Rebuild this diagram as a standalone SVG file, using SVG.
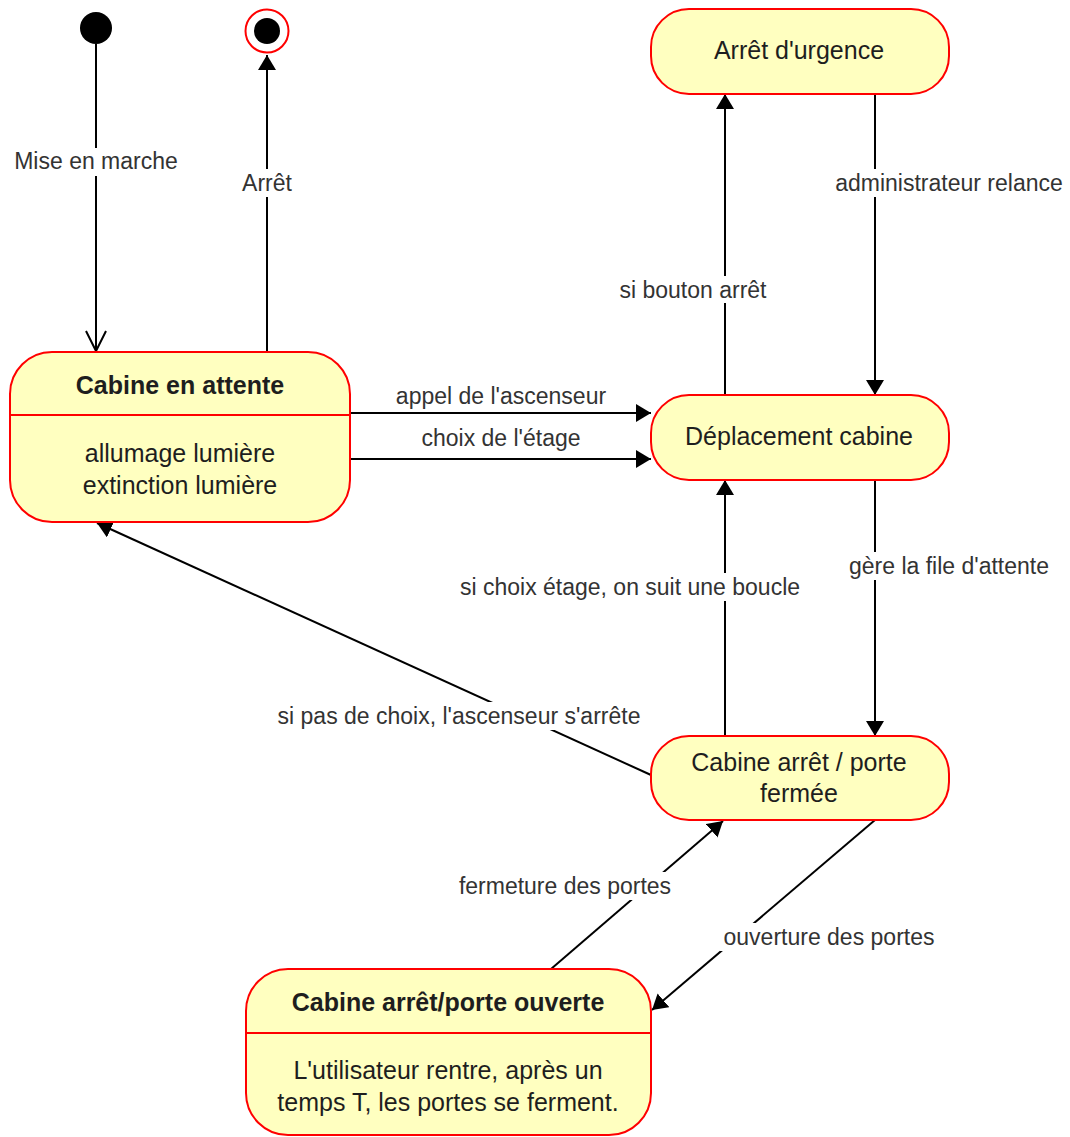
<svg xmlns="http://www.w3.org/2000/svg" width="1070" height="1137" viewBox="0 0 1070 1137">
<style>
.node{fill:#FFFFC0;stroke:#FF0000;stroke-width:2}
.div{stroke:#FF0000;stroke-width:2}
.nt{font-family:"Liberation Sans",Arial,sans-serif;font-size:25px;fill:#1e1e1e;text-anchor:middle}
.b{font-weight:bold}
.edge{stroke:#000;stroke-width:2;fill:none}
.lbg{fill:#fff}
.lt{font-family:"Liberation Sans",Arial,sans-serif;font-size:23px;fill:#333;text-anchor:middle}
</style>
<defs>
<marker id="fa" markerUnits="userSpaceOnUse" markerWidth="18" markerHeight="20" refX="15" refY="9" orient="auto">
<path d="M0,0 L15,9 L0,18 z" fill="#000"/>
</marker>
<marker id="oa" markerUnits="userSpaceOnUse" markerWidth="24" markerHeight="24" refX="21" refY="11" orient="auto">
<path d="M1,1 L21,11 L1,21" fill="none" stroke="#000" stroke-width="2"/>
</marker>
</defs>
<rect width="1070" height="1137" fill="#fff"/>

<g id="connectors">
<line class="edge" x1="96" y1="44" x2="96" y2="351" marker-end="url(#oa)"/>
<line class="edge" x1="267" y1="352" x2="267" y2="55" marker-end="url(#fa)"/>
<line class="edge" x1="350" y1="413" x2="651" y2="413" marker-end="url(#fa)"/>
<line class="edge" x1="350" y1="459" x2="651" y2="459" marker-end="url(#fa)"/>
<line class="edge" x1="725" y1="395" x2="725" y2="94" marker-end="url(#fa)"/>
<line class="edge" x1="875" y1="94" x2="875" y2="395" marker-end="url(#fa)"/>
<line class="edge" x1="725" y1="736" x2="725" y2="480" marker-end="url(#fa)"/>
<line class="edge" x1="875" y1="480" x2="875" y2="736" marker-end="url(#fa)"/>
<line class="edge" x1="651" y1="775" x2="97" y2="523" marker-end="url(#fa)"/>
<line class="edge" x1="551" y1="969" x2="723" y2="821" marker-end="url(#fa)"/>
<line class="edge" x1="875" y1="820" x2="652" y2="1010" marker-end="url(#fa)"/>

<rect class="lbg" x="12" y="148" width="170" height="28"/>
<text class="lt" x="96" y="169">Mise en marche</text>
<rect class="lbg" x="240" y="169" width="54" height="28"/>
<text class="lt" x="267" y="191">Arrêt</text>
<text class="lt" x="501" y="404">appel de l'ascenseur</text>
<text class="lt" x="501" y="446">choix de l'étage</text>
<rect class="lbg" x="616" y="276" width="154" height="27"/>
<text class="lt" x="693" y="298">si bouton arrêt</text>
<rect class="lbg" x="832" y="169" width="234" height="28"/>
<text class="lt" x="949" y="191">administrateur relance</text>
<rect class="lbg" x="455" y="573" width="350" height="28"/>
<text class="lt" x="630" y="595">si choix étage, on suit une boucle</text>
<rect class="lbg" x="845" y="552" width="208" height="28"/>
<text class="lt" x="949" y="574">gère la file d'attente</text>
<rect class="lbg" x="272" y="702" width="374" height="28"/>
<text class="lt" x="459" y="724">si pas de choix, l'ascenseur s'arrête</text>
<rect class="lbg" x="455" y="872" width="221" height="28"/>
<text class="lt" x="565" y="894">fermeture des portes</text>
<rect class="lbg" x="720" y="923" width="220" height="28"/>
<text class="lt" x="829" y="945">ouverture des portes</text>
</g>

<g id="start">
<circle cx="96" cy="28" r="16" fill="#000"/>
</g>

<g id="end">
<circle cx="267" cy="31" r="21.5" fill="#fff" stroke="#FF0000" stroke-width="2"/>
<circle cx="267" cy="31" r="13" fill="#000"/>
</g>

<g id="cabine-attente">
<rect class="node" x="10" y="352" width="340" height="170" rx="42" ry="42"/>
<line class="div" x1="10" y1="415" x2="350" y2="415"/>
<text class="nt b" x="180" y="394">Cabine en attente</text>
<text class="nt" x="180" y="462">allumage lumière</text>
<text class="nt" x="180" y="494">extinction lumière</text>
</g>

<g id="arret-urgence">
<rect class="node" x="651" y="9" width="298" height="85" rx="38" ry="38"/>
<text class="nt" x="799" y="59">Arrêt d'urgence</text>
</g>

<g id="deplacement">
<rect class="node" x="651" y="395" width="298" height="85" rx="38" ry="38"/>
<text class="nt" x="799" y="445">Déplacement cabine</text>
</g>

<g id="porte-fermee">
<rect class="node" x="651" y="736" width="298" height="84" rx="38" ry="38"/>
<text class="nt" x="799" y="771">Cabine arrêt / porte</text>
<text class="nt" x="799" y="802">fermée</text>
</g>

<g id="porte-ouverte">
<rect class="node" x="246" y="969" width="405" height="166" rx="42" ry="42"/>
<line class="div" x1="246" y1="1033" x2="651" y2="1033"/>
<text class="nt b" x="448" y="1011">Cabine arrêt/porte ouverte</text>
<text class="nt" x="448" y="1079">L'utilisateur rentre, après un</text>
<text class="nt" x="448" y="1111">temps T, les portes se ferment.</text>
</g>
</svg>
